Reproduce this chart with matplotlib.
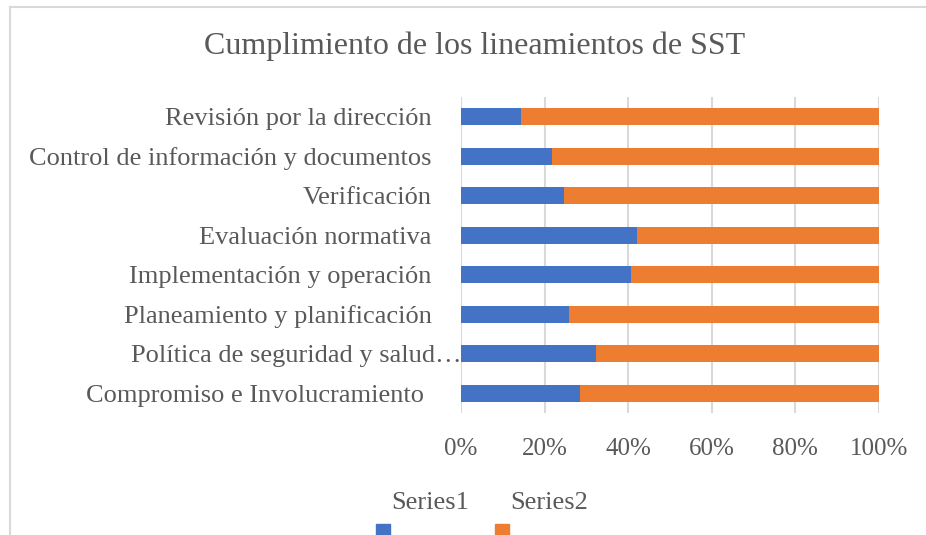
import numpy as np
import matplotlib
matplotlib.use("Agg")
import matplotlib.pyplot as plt
from matplotlib.patches import Rectangle
from matplotlib.lines import Line2D
import matplotlib.transforms as mtransforms

# categories listed bottom to top, as in the Excel chart
categories = [
    "Compromiso e Involucramiento",
    "Política de seguridad y salud…",
    "Planeamiento y planificación",
    "Implementación y operación",
    "Evaluación normativa",
    "Verificación",
    "Control de información y documentos",
    "Revisión por la dirección",
]
series1 = np.array([28.5, 32.3, 25.8, 40.7, 42.1, 24.6, 21.8, 14.4])
series2 = 100 - series1
xticks = [0, 20, 40, 60, 80, 100]
xticklabels = ["0%", "20%", "40%", "60%", "80%", "100%"]

blue = "#4472C4"
orange = "#ED7D31"
text_col = "#595959"
grid_col = "#d9d9d9"

plt.rcParams["font.family"] = ["Liberation Serif", "DejaVu Serif"]

W, H = 926, 535
fig = plt.figure(figsize=(W / 100, H / 100), dpi=100)

ax = fig.add_axes([461 / W, (H - 413) / H, 418 / W, 316 / H])
y = np.arange(len(categories))
ax.barh(y, series1, height=0.43, color=blue, zorder=3)
ax.barh(y, series2, left=series1, height=0.43, color=orange, zorder=3)

ax.set_xlim(0, 100)
ax.set_ylim(-0.5, len(categories) - 0.5)
ax.set_xticks(xticks)
ax.set_xticklabels(xticklabels)
ax.set_yticks(y)
ax.set_yticklabels(categories)
ax.tick_params(length=0, colors=text_col)
ax.tick_params(axis="y", pad=21, labelsize=19)
ax.tick_params(axis="x", pad=18, labelsize=18)
for s in ax.spines.values():
    s.set_visible(False)
ax.grid(axis="x", color=grid_col, linewidth=1.5, zorder=0)

# labels that Excel placed a bit off the common right edge
labels = ax.get_yticklabels()
labels[1].set_transform(labels[1].get_transform() +
                        mtransforms.ScaledTranslation(30 / 100, 0, fig.dpi_scale_trans))
labels[0].set_transform(labels[0].get_transform() +
                        mtransforms.ScaledTranslation(-8 / 100, 0, fig.dpi_scale_trans))

fig.text(475 / W, 1 - 46 / H, "Cumplimiento de los lineamientos de SST",
         ha="center", va="center", fontsize=23, color=text_col)

# legend (cut off at the bottom edge in the original)
fig.text(430 / W, 1 - 503 / H, "Series1", ha="center", va="center",
         fontsize=19, color=text_col)
fig.text(549 / W, 1 - 503 / H, "Series2", ha="center", va="center",
         fontsize=19, color=text_col)
fig.add_artist(Rectangle((376 / W, 0), 14 / W, 11 / H, transform=fig.transFigure,
                         color=blue))
fig.add_artist(Rectangle((495 / W, 0), 14 / W, 11 / H, transform=fig.transFigure,
                         color=orange))

# chart area border
fig.add_artist(Line2D([10 / W, 10 / W], [0, 1 - 7 / H], color=grid_col, lw=1.5))
fig.add_artist(Line2D([10 / W, 1], [1 - 7 / H, 1 - 7 / H], color=grid_col, lw=1.5))

fig.savefig("out.png", dpi=100)
